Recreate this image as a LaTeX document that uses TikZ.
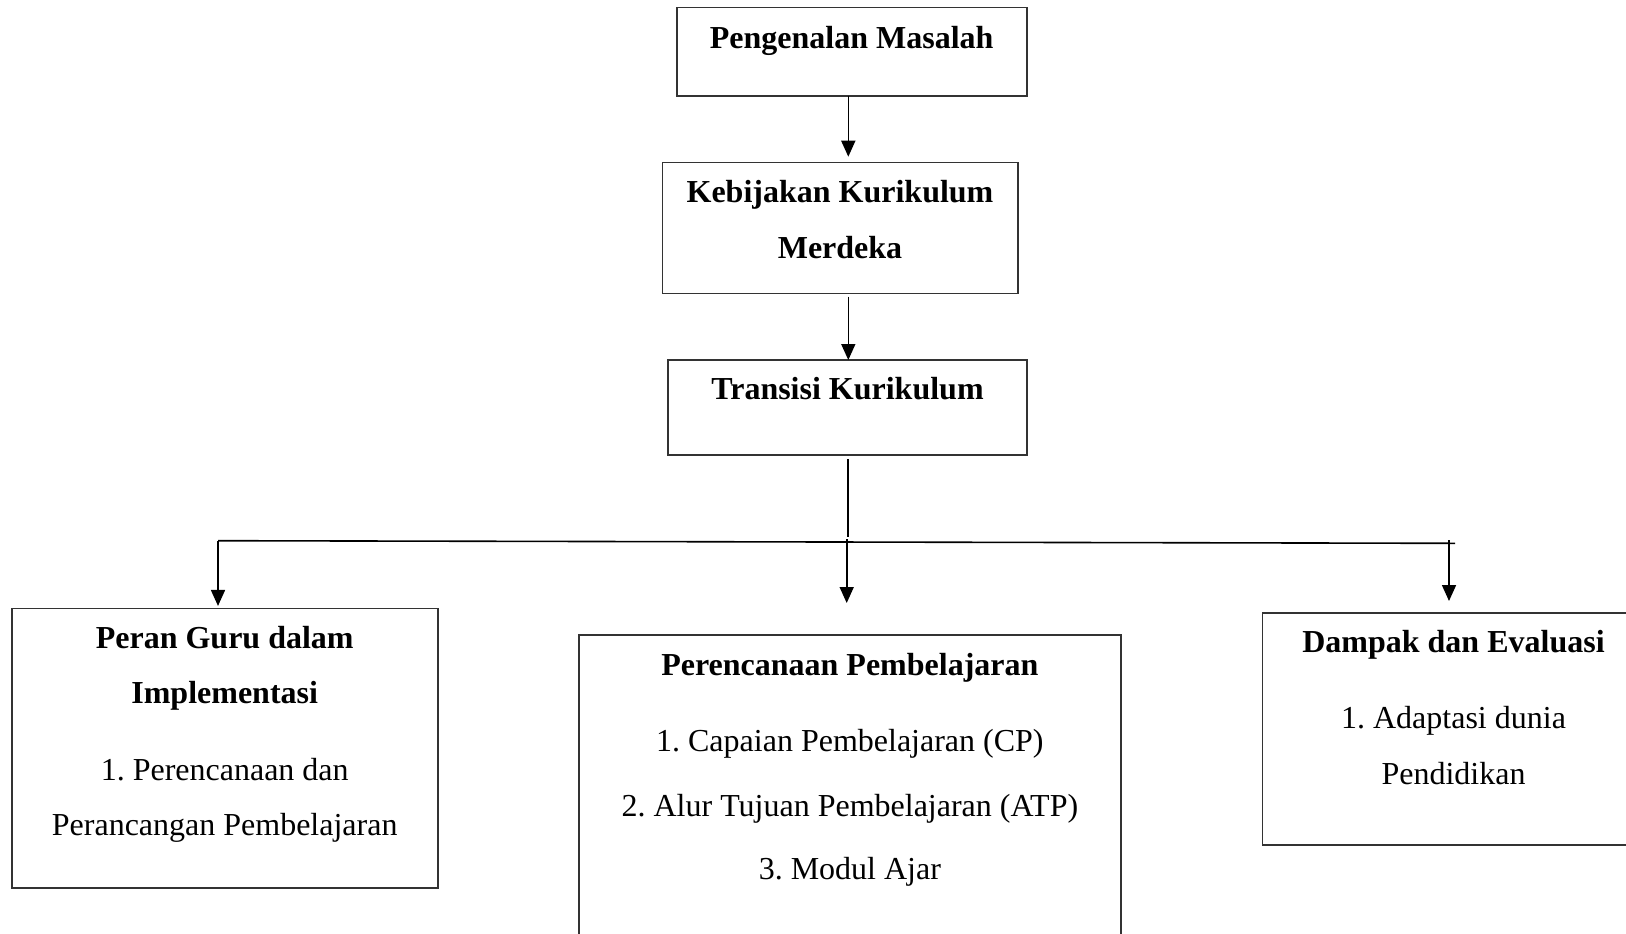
\documentclass[tikz,border=0pt]{standalone}
\usepackage{fontspec}
\setmainfont{Liberation Serif}
\usetikzlibrary{arrows.meta,calc}
\frenchspacing
\begin{document}
\begin{tikzpicture}[x=0.5pt,y=-0.5pt,
  box/.style={draw=black!80,line width=0.8pt,rectangle,inner sep=0pt,outer sep=0pt},
  txt/.style={anchor=base,inner sep=0pt,outer sep=0pt,font=\fontsize{16pt}{19pt}\selectfont},
  btxt/.style={txt,font=\fontsize{16pt}{19pt}\selectfont\bfseries},
  ln/.style={draw=black,line width=0.8pt},
  arr/.style={ln,-{Triangle[length=8pt,width=7pt]}}]
\useasboundingbox (0,0) rectangle (1626,933);
\clip (0,0) rectangle (1626,933);
\fill[white] (0,0) rectangle (1626,933);
% boxes
\node[box,minimum width=175pt,minimum height=44.35pt] (b1) at (851.7,51.65) {};
\node[box,minimum width=177.7pt,minimum height=65.5pt] (b2) at (840,227.8) {};
\node[box,minimum width=179.5pt,minimum height=47.5pt] (b3) at (847.2,407.5) {};
\node[box,minimum width=213pt,minimum height=139.85pt] (b4) at (224.7,748.2) {};
\node[box,minimum width=270.85pt,minimum height=175pt] (b5) at (849.85,810) {};
\node[box,minimum width=191.25pt,minimum height=116pt] (b6) at (1453.75,729) {};
% texts
\node[btxt] (t1) at (851.7,48) {Pengenalan Masalah};
\node[btxt] (t2a) at (840,202) {Kebijakan Kurikulum};
\node[btxt] (t2b) at (840,258) {Merdeka};
\node[btxt] (t3) at (847.5,399) {Transisi Kurikulum};
\node[btxt] (t4a) at (224.7,648.5) {Peran Guru dalam};
\node[btxt] (t4b) at (224.7,703.3) {Implementasi};
\node[txt] (t4c) at (224.7,780) {1. Perencanaan dan};
\node[txt] (t4d) at (224.7,835) {Perancangan Pembelajaran};
\node[btxt] (t5a) at (849.85,675) {Perencanaan Pembelajaran};
\node[txt] (t5b) at (849.85,751.7) {1. Capaian Pembelajaran (CP)};
\node[txt] (t5c) at (849.85,816.7) {2. Alur Tujuan Pembelajaran (ATP)};
\node[txt] (t5d) at (849.85,879.3) {3. Modul Ajar};
\node[btxt] (t6a) at (1453.5,652.7) {Dampak dan Evaluasi};
\node[txt] (t6b) at (1453.5,728) {1. Adaptasi dunia};
\node[txt] (t6c) at (1453.5,784) {Pendidikan};
% junction coordinates
\coordinate (x1) at (848.3,0);
\coordinate (jL) at (218,540.7);
\coordinate (jM) at (847.7,541.6);
\coordinate (jM2) at (846.7,541.6);
\coordinate (jR) at (1455,543.3);
\coordinate (jRv) at (1449,543.2);
% connectors
\draw[arr,shorten >=2.8pt] (b1.south -| x1) -- (b2.north -| x1);
\draw[arr,shorten <=1.6pt] (b2.south -| x1) -- (b3.north -| x1);
\draw[ln] ([yshift=-2pt]b3.south -| jM) -- ([yshift=2.3pt]jM);
\draw[ln] (jL) -- (jR);
\draw[arr,shorten >=1.2pt] (jL) -- (b4.north -| jL);
\draw[arr,shorten >=16pt] ([yshift=1.3pt]jM2) -- (b5.north -| jM2);
\draw[arr,shorten >=6pt] ([yshift=1.6pt]jRv) -- (b6.north -| jRv);
\end{tikzpicture}
\end{document}
